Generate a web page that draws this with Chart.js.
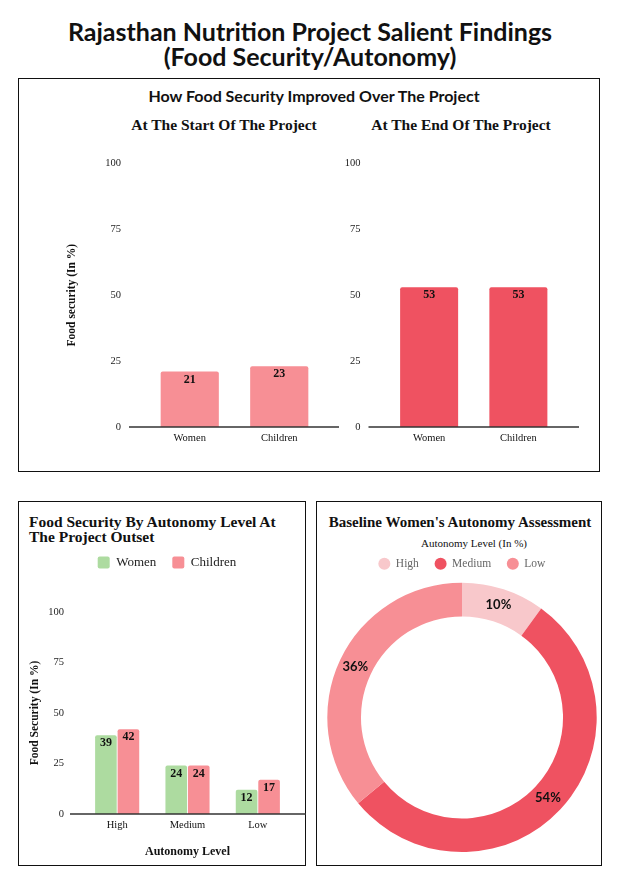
<!doctype html>
<html>

<head>
    <meta charset="utf-8" />
    <meta name="viewport" content="width=device-width, initial-scale=1" />

    <style>
        html,
        body {
            margin: 0px;
            padding: 0px;
            background-color: #ffffff;
        }

        body {
            position: relative;
            width: 620px;
            height: 882px;
            overflow: hidden;
            font-family: "Liberation Serif", serif;
            color: #111111;
        }

        .main-title {
            position: absolute;
            left: 0px;
            top: 18.5px;
            width: 620px;
            text-align: center;
            font-family: Lato;
            font-weight: 700;
            font-size: 25px;
            line-height: 25px;
        }

        .box {
            position: absolute;
            box-sizing: border-box;
            border: 1.5px solid #111111;
        }

        .label {
            position: absolute;
            transform: translate(-50%, -50%);
            white-space: nowrap;
        }

        .sans {
            font-family: Lato;
            font-weight: 700;
            font-size: 16px;
        }

        .heading {
            font-weight: 700;
            font-size: 15.5px;
        }

        .left-heading {
            position: absolute;
            left: 29px;
            top: 514px;
            font-weight: 700;
            font-size: 15.5px;
            line-height: 15px;
        }

        .chart {
            position: absolute;
        }
    </style>

    <title>Rajasthan Nutrition Project Salient Findings</title>
</head>

<body>

    <div class="main-title">Rajasthan Nutrition Project Salient Findings<br>(Food Security/Autonomy)</div>

    <div class="box" style="left: 18px; top: 78px; width: 582px; height: 394px;"></div>
    <div class="box" style="left: 18px; top: 501px; width: 288px; height: 365px;"></div>
    <div class="box" style="left: 316px; top: 501px; width: 286px; height: 365px;"></div>

    <div class="label sans" style="left: 314px; top: 95px;">How Food Security Improved Over The Project</div>
    <div class="label heading" style="left: 224px; top: 125px;">At The Start Of The Project</div>
    <div class="label heading" style="left: 461px; top: 125px;">At The End Of The Project</div>

    <div class="left-heading">Food Security By Autonomy Level At<br>The Project Outset</div>

    <div class="label heading" style="left: 460px; top: 522px; font-size: 15px;">Baseline Women's Autonomy Assessment</div>
    <div class="label" style="left: 474px; top: 543px; font-size: 11px;">Autonomy Level (In %)</div>

    <div class="chart" style="left: 20px; top: 132.7px; width: 322px; height: 327.3px;">
        <canvas id="chart_start"></canvas>
    </div>
    <div class="chart" style="left: 344px; top: 132.7px; width: 237px; height: 327.3px;">
        <canvas id="chart_end"></canvas>
    </div>
    <div class="chart" style="left: 20px; top: 540px; width: 286px; height: 322px;">
        <canvas id="chart_levels"></canvas>
    </div>
    <div class="chart" style="left: 317px; top: 542px; width: 284px; height: 311px;">
        <canvas id="chart_assessment"></canvas>
    </div>

    <script src="https://cdn.jsdelivr.net/npm/chart.js@4.4.1/dist/chart.umd.min.js"></script>

    <script>

        // values
        var groups = ['Women', 'Children'];
        var startValues = [21, 23];
        var endValues = [53, 53];

        var levels = ['High', 'Medium', 'Low'];
        var womenByLevel = [39, 24, 12];
        var childrenByLevel = [42, 24, 17];

        var autonomyLabels = ['High', 'Medium', 'Low'];
        var autonomyShares = [10, 54, 36];

        var yTicks = [0, 25, 50, 75, 100];

        var pink = '#F78F95';
        var red = '#EF5261';
        var green = '#ADDBA0';
        var palePink = '#F8C8CB';

        Chart.defaults.font.family = '"Liberation Serif"';
        Chart.defaults.color = '#222222';
        Chart.defaults.animation = false;

        // zero line that runs a bit past the plot on both sides
        var baseline = {
            id: 'baseline',
            afterDatasetsDraw: function (chart, args, opts) {
                var ctx = chart.ctx;
                var area = chart.chartArea;
                var y = chart.scales.y.getPixelForValue(0);
                ctx.save();
                ctx.strokeStyle = '#333333';
                ctx.lineWidth = 1.5;
                ctx.beginPath();
                ctx.moveTo(area.left - opts.left, y);
                ctx.lineTo(area.right + opts.right, y);
                ctx.stroke();
                ctx.restore();
            }
        };

        var barValues = {
            id: 'barValues',
            afterDatasetsDraw: function (chart) {
                var ctx = chart.ctx;
                ctx.save();
                ctx.font = 'bold 12px "Liberation Serif"';
                ctx.fillStyle = '#111111';
                ctx.textAlign = 'center';
                ctx.textBaseline = 'middle';
                chart.data.datasets.forEach(function (ds, i) {
                    chart.getDatasetMeta(i).data.forEach(function (bar, j) {
                        ctx.fillText(ds.data[j], bar.x, bar.y + 8);
                    });
                });
                ctx.restore();
            }
        };

        var sliceValues = {
            id: 'sliceValues',
            afterDatasetsDraw: function (chart) {
                var ctx = chart.ctx;
                var ds = chart.data.datasets[0];
                ctx.save();
                ctx.font = 'bold 13px Lato';
                ctx.fillStyle = '#111111';
                ctx.textAlign = 'center';
                ctx.textBaseline = 'middle';
                chart.getDatasetMeta(0).data.forEach(function (arc, i) {
                    var p = arc.tooltipPosition();
                    ctx.fillText(ds.data[i] + '%', p.x, p.y);
                });
                ctx.restore();
            }
        };

        // extra room under the legend
        var legendGap = {
            id: 'legendGap',
            beforeInit: function (chart, args, opts) {
                var fit = chart.legend.fit;
                chart.legend.fit = function () {
                    fit.call(this);
                    this.height += opts.gap || 0;
                };
            }
        };

        function percentAxis(width, titleText, tickPadding, titlePadding) {
            return {
                min: 0,
                max: 100,
                grid: { display: false, drawTicks: false },
                border: { display: false },
                afterBuildTicks: function (scale) {
                    scale.ticks = yTicks.map(function (v) { return { value: v }; });
                },
                afterFit: function (scale) { scale.width = width; },
                ticks: { padding: tickPadding, color: '#222222', font: { size: 10.5 } },
                title: {
                    display: titleText !== '',
                    text: titleText,
                    color: '#111111',
                    font: { size: 11.5, weight: 'bold' },
                    padding: titlePadding
                }
            };
        }

        function groupAxis(height) {
            return {
                grid: { display: false, drawTicks: false },
                border: { display: false },
                afterFit: function (scale) { scale.height = height; },
                ticks: { padding: 5, color: '#111111', font: { size: 10.5 } }
            };
        }

        new Chart(document.getElementById('chart_start'), {
            type: 'bar',
            data: {
                labels: groups,
                datasets: [{
                    label: 'Start',
                    data: startValues,
                    backgroundColor: pink,
                    borderRadius: 2,
                    categoryPercentage: 1,
                    barPercentage: 0.65
                }]
            },
            options: {
                responsive: true,
                maintainAspectRatio: false,
                layout: { padding: { left: 0, right: 18, top: 0, bottom: 0 } },
                plugins: { legend: { display: false }, tooltip: { enabled: false }, baseline: { left: 16, right: 15 } },
                scales: {
                    x: groupAxis(33.3),
                    y: percentAxis(125, 'Food security (In %)', 24, { top: 45, bottom: 0 })
                }
            },
            plugins: [baseline, barValues]
        });

        new Chart(document.getElementById('chart_end'), {
            type: 'bar',
            data: {
                labels: groups,
                datasets: [{
                    label: 'End',
                    data: endValues,
                    backgroundColor: red,
                    borderRadius: 2,
                    categoryPercentage: 1,
                    barPercentage: 0.65
                }]
            },
            options: {
                responsive: true,
                maintainAspectRatio: false,
                layout: { padding: { left: 0, right: 18, top: 0, bottom: 0 } },
                plugins: { legend: { display: false }, tooltip: { enabled: false }, baseline: { left: 16, right: 16 } },
                scales: {
                    x: groupAxis(33.3),
                    y: percentAxis(40.5, '', 24, 0)
                }
            },
            plugins: [baseline, barValues]
        });

        new Chart(document.getElementById('chart_levels'), {
            type: 'bar',
            data: {
                labels: levels,
                datasets: [
                    {
                        label: 'Women',
                        data: womenByLevel,
                        backgroundColor: green,
                        borderRadius: 2,
                        categoryPercentage: 0.64,
                        barPercentage: 0.96
                    },
                    {
                        label: 'Children',
                        data: childrenByLevel,
                        backgroundColor: pink,
                        borderRadius: 2,
                        categoryPercentage: 0.64,
                        barPercentage: 0.96
                    }
                ]
            },
            options: {
                responsive: true,
                maintainAspectRatio: false,
                layout: { padding: { left: 8, right: 0, top: 0, bottom: 0 } },
                plugins: {
                    tooltip: { enabled: false },
                    baseline: { left: 12, right: 13 },
                    legendGap: { gap: 33 },
                    legend: {
                        labels: {
                            boxWidth: 12,
                            boxHeight: 12,
                            useBorderRadius: true,
                            borderRadius: 2,
                            padding: 16,
                            color: '#222222',
                            font: { size: 13 }
                        }
                    }
                },
                scales: {
                    x: Object.assign(groupAxis(48), {
                        title: {
                            display: true,
                            text: 'Autonomy Level',
                            color: '#111111',
                            font: { size: 12, weight: 'bold' },
                            padding: { top: 12.6, bottom: 2.8 }
                        }
                    }),
                    y: percentAxis(54, 'Food Security (In %)', 18, { top: 0, bottom: 6 }),
                    y2: {
                        position: 'right',
                        display: true,
                        grid: { display: false, drawTicks: false },
                        border: { display: false },
                        ticks: { display: false },
                        afterFit: function (scale) { scale.width = 13; }
                    }
                }
            },
            plugins: [legendGap, baseline, barValues]
        });

        new Chart(document.getElementById('chart_assessment'), {
            type: 'doughnut',
            data: {
                labels: autonomyLabels,
                datasets: [{
                    data: autonomyShares,
                    backgroundColor: [palePink, red, pink],
                    borderWidth: 0
                }]
            },
            options: {
                responsive: true,
                maintainAspectRatio: false,
                cutout: '75%',
                layout: { padding: { left: 10.3, right: 4.3, top: 0, bottom: 0.7 } },
                plugins: {
                    tooltip: { enabled: false },
                    legendGap: { gap: 3 },
                    legend: {
                        labels: {
                            usePointStyle: true,
                            pointStyle: 'circle',
                            boxWidth: 12,
                            boxHeight: 8.5,
                            padding: 16,
                            color: '#666666',
                            font: { size: 11.5 }
                        }
                    }
                }
            },
            plugins: [legendGap, sliceValues]
        });

    </script>

</body>

</html>
